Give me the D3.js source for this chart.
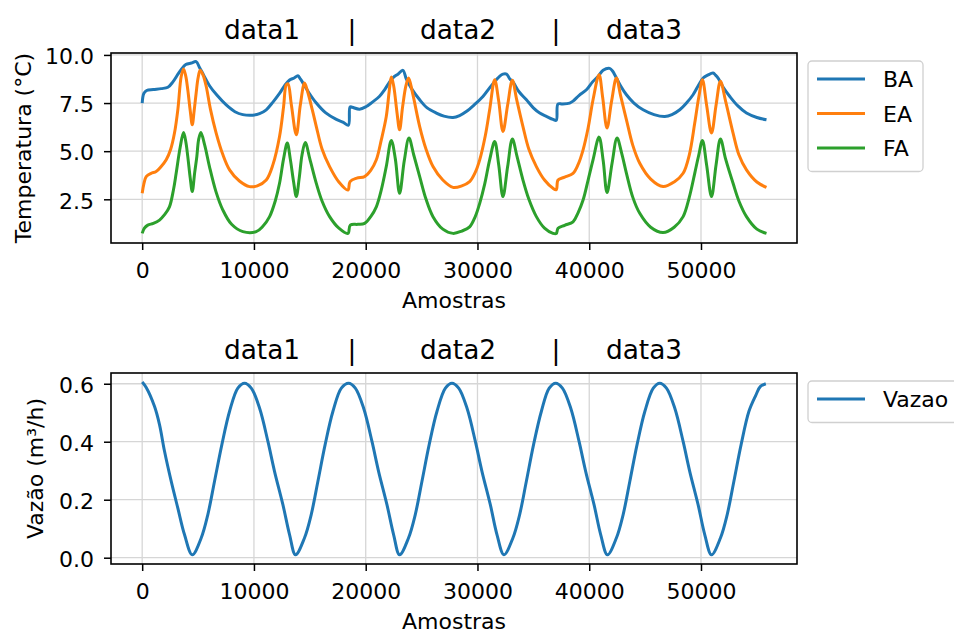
<!DOCTYPE html>
<html>
<head>
<meta charset="utf-8">
<script src="https://cdn.jsdelivr.net/npm/d3@7"></script>
<style>
  body { margin: 0; background: #fff; }
  svg { display: block; font-family: 'DejaVu Sans', sans-serif; }
</style>
</head>
<body>
<svg width="954" height="633"></svg>
<script>
// Tick labels
let amostrasTicks = [0, 10000, 20000, 30000, 40000, 50000];
let tempTicks = [2.5, 5.0, 7.5, 10.0];
let vazaoTicks = [0.0, 0.2, 0.4, 0.6];

// Title pieces above each panel
let titleParts = ['data1', '|', 'data2', '|', 'data3'];

// Series names
let tempNames = ['BA', 'EA', 'FA'];
let vazaoNames = ['Vazao'];

// [amostra, temperatura]
let baData = [[0,7.5],[150,8.0],[400,8.15],[1000,8.2],[1700,8.25],[2300,8.32],[2750,8.6],[3200,9.0],[3500,9.25],[3900,9.5],[4400,9.58],[4830,9.65],[5130,9.35],[5500,8.95],[6025,8.4],[6700,7.9],[7520,7.4],[8300,7.05],[9000,6.9],[9900,6.87],[10500,6.95],[11100,7.15],[11700,7.55],[12290,8.0],[12800,8.45],[13190,8.7],[13600,8.8],[13930,8.92],[14150,8.75],[14380,8.55],[14900,8.05],[15580,7.5],[16400,7.0],[17370,6.65],[18000,6.5],[18450,6.35],
  [18600,7.3],[18800,7.28],[19450,7.18],[20050,7.32],[20600,7.55],[21240,7.85],[21700,8.2],[22140,8.6],[22500,8.85],[22880,9.0],[23330,9.2],[23630,8.75],[24100,8.25],[24830,7.67],[25500,7.25],[26320,6.98],[27000,6.82],[27810,6.75],[28400,6.85],[29000,7.06],[29700,7.4],[30490,7.84],[31100,8.3],[31690,8.71],[32000,8.9],[32280,9.0],[32600,9.0],[32900,8.75],[33180,8.6],[33700,8.1],[34380,7.67],[35000,7.25],[35570,6.98],[36200,6.8],[36760,6.65],[37050,6.6],
  [37200,7.45],[37600,7.45],[38250,7.5],[38550,7.6],[39100,7.9],[39750,8.19],[40300,8.6],[40790,8.88],[41240,9.2],[41830,9.3],[42100,9.15],[42280,8.97],[42800,8.4],[43330,7.93],[44000,7.5],[44820,7.15],[45800,6.9],[46760,6.8],[47400,6.9],[48100,7.15],[48700,7.5],[49290,7.93],[49800,8.45],[50190,8.8],[50600,8.95],[51080,9.06],[51300,8.95],[51530,8.8],[52000,8.3],[52580,7.84],[53300,7.35],[54070,6.98],[55000,6.75],[55860,6.63]];

let eaData = [[0,2.81],[150,3.3],[360,3.68],[800,3.85],[1250,3.94],[1700,4.2],[2150,4.55],[2550,5.1],[2890,5.94],[3200,7.2],[3490,8.88],[3700,9.27],[3900,8.9],[4080,8.19],[4300,7.1],[4480,6.37],[4650,7.1],[4830,8.02],[5000,8.8],[5190,9.2],[5450,8.95],[5730,8.36],[6100,7.2],[6620,5.94],[7200,4.85],[7820,4.03],[8700,3.45],[9610,3.16],[10300,3.2],[11100,3.5],[11700,4.3],[12290,5.76],[12650,7.3],[12890,8.45],[13050,8.5],[13350,7.4],[13790,5.85],[14150,7.4],[14530,8.54],[14800,8.1],[15200,7.2],[15580,6.28],[16100,5.1],[16770,4.2],[17600,3.4],[18410,2.98],
  [18600,3.42],[19200,3.6],[19900,3.68],[20450,4.0],[20950,4.55],[21400,5.6],[21840,6.8],[22100,8.1],[22290,8.85],[22500,8.4],[22800,7.0],[23030,6.11],[23300,7.3],[23600,8.4],[23840,8.8],[24200,8.0],[24830,6.28],[25400,5.1],[26020,4.2],[26900,3.5],[27810,3.12],[28600,3.2],[29300,3.42],[29800,3.9],[30200,4.55],[30700,5.8],[31090,7.15],[31540,8.71],[31900,7.6],[32280,6.02],[32700,7.4],[33120,8.68],[33500,7.7],[34070,6.28],[34600,5.1],[35270,4.2],[36000,3.5],[36760,3.07],[37050,3.0],
  [37210,3.5],[37800,3.65],[38550,3.85],[39000,4.3],[39450,5.07],[39900,6.2],[40340,7.67],[40880,8.97],[41200,7.8],[41590,6.2],[42000,7.6],[42430,8.8],[42800,7.9],[43330,6.63],[43900,5.3],[44520,4.37],[45500,3.55],[46610,3.16],[47600,3.4],[48400,3.85],[48950,4.8],[49440,6.46],[49800,7.8],[50130,8.71],[50500,7.4],[50940,5.94],[51350,7.4],[51740,8.63],[52200,7.6],[52870,5.94],[53400,4.8],[54070,4.03],[55000,3.4],[55860,3.12]];

let faData = [[0,0.73],[200,1.0],[500,1.16],[1000,1.25],[1550,1.42],[2000,1.7],[2440,2.11],[2800,3.0],[3040,3.85],[3400,5.2],[3700,5.97],[3900,5.5],[4080,4.72],[4300,3.6],[4480,2.9],[4700,3.9],[4890,4.72],[5050,5.6],[5250,5.97],[5600,5.3],[6020,4.2],[6600,2.9],[7220,1.94],[8000,1.2],[9010,0.82],[10200,0.82],[10800,1.1],[11400,1.6],[11900,2.4],[12290,3.33],[12650,4.6],[12980,5.42],[13250,4.6],[13550,3.4],[13790,2.64],[14050,3.6],[14300,4.8],[14590,5.45],[15000,4.6],[15580,3.33],[16100,2.4],[16770,1.6],[17600,1.0],[18410,0.73],
  [18620,1.16],[19300,1.2],[19900,1.25],[20450,1.6],[20950,2.11],[21400,3.0],[21840,4.2],[22290,5.56],[22650,4.6],[23030,2.81],[23450,4.5],[23870,5.68],[24300,4.8],[24830,3.68],[25400,2.5],[26020,1.6],[26900,0.95],[27810,0.73],[28600,0.85],[29300,1.07],[29800,1.6],[30200,2.29],[30650,3.3],[31090,4.55],[31540,5.5],[31900,4.3],[32280,2.64],[32700,4.2],[33120,5.63],[33550,4.7],[34070,3.5],[34600,2.5],[35270,1.6],[36000,1.0],[36760,0.73],[37050,0.72],
  [37210,0.99],[37800,1.15],[38550,1.33],[39000,1.8],[39450,2.46],[39900,3.5],[40340,4.55],[40880,5.73],[41250,4.5],[41590,2.85],[42050,4.4],[42490,5.68],[42900,4.9],[43330,3.85],[43900,2.6],[44520,1.77],[45500,1.05],[46610,0.77],[47600,1.05],[48400,1.6],[48950,2.6],[49440,3.85],[49800,4.8],[50130,5.56],[50500,4.3],[50940,2.64],[51350,4.3],[51740,5.63],[52200,4.6],[52870,3.33],[53400,2.4],[54070,1.6],[55000,0.95],[55860,0.73]];

// [amostra, vazao]
let vazaoData = [[0,0.606],[360,0.587],[1100,0.522],[1550,0.459],[2000,0.367],[2600,0.263],[3190,0.171],[3790,0.079],[4480,0.01],
  [5280,0.068],[5870,0.148],[6470,0.263],[7130,0.39],[7820,0.505],[8560,0.585],[9160,0.602],
  [9760,0.585],[10500,0.516],[11250,0.401],[11840,0.298],[12590,0.183],[13190,0.079],[13720,0.01],
  [14520,0.068],[15120,0.148],[15720,0.263],[16370,0.39],[17070,0.505],[17820,0.585],[18470,0.602],
  [19070,0.585],[19810,0.516],[20560,0.401],[21150,0.298],[21900,0.183],[22500,0.079],[23030,0.01],
  [23830,0.068],[24430,0.148],[25030,0.263],[25680,0.39],[26380,0.505],[27130,0.585],[27720,0.602],
  [28320,0.585],[29060,0.516],[29810,0.401],[30400,0.298],[31150,0.183],[31750,0.079],[32370,0.01],
  [33170,0.068],[33770,0.148],[34370,0.263],[35020,0.39],[35720,0.505],[36420,0.585],[37000,0.602],
  [37600,0.585],[38340,0.516],[39090,0.401],[39680,0.298],[40430,0.183],[41030,0.079],[41630,0.01],
  [42430,0.068],[43030,0.148],[43630,0.263],[44280,0.39],[44980,0.505],[45730,0.585],[46310,0.602],
  [46910,0.585],[47650,0.516],[48400,0.401],[48990,0.298],[49740,0.183],[50340,0.079],[50940,0.01],
  [51740,0.068],[52340,0.148],[52940,0.263],[53590,0.39],[54290,0.505],[54900,0.56],[55300,0.59],[55800,0.6]];

// Select the svg element
let svg = d3.select('svg');

// Matplotlib tab10 colours
let colors = ['#1f77b4', '#ff7f0e', '#2ca02c'];

// Shared horizontal placement of both panels
let left = 111, right = 797;
let x = d3.scaleLinear().domain([-2790, 58590]).range([left, right]);

function drawPanel(p) {
    let y = d3.scaleLinear().domain(p.yDomain).range([p.bottom, p.top]);
    let g = svg.append('g');

    // Grid lines first so the curves sit on top
    g.selectAll('.vgrid').data(amostrasTicks).enter().append('line')
        .attr('x1', d => x(d)).attr('x2', d => x(d))
        .attr('y1', p.top).attr('y2', p.bottom)
        .attr('stroke', '#d6d6d6').attr('stroke-width', 1.3);
    g.selectAll('.hgrid').data(p.yTicks).enter().append('line')
        .attr('x1', left).attr('x2', right)
        .attr('y1', d => y(d)).attr('y2', d => y(d))
        .attr('stroke', '#d6d6d6').attr('stroke-width', 1.3);

    // The curves (catmull-rom keeps the peaks round but passes through every point)
    let line = d3.line().curve(d3.curveCatmullRom.alpha(0.5)).x(d => x(d[0])).y(d => y(d[1]));
    p.series.forEach((s, i) => {
        g.append('path')
            .attr('d', line(s))
            .attr('fill', 'none')
            .attr('stroke', colors[i])
            .attr('stroke-width', 3)
            .attr('stroke-linejoin', 'round');
    });

    // Axes
    let xAxis = g.append('g')
        .attr('transform', 'translate(0,' + p.bottom + ')')
        .call(d3.axisBottom(x).tickValues(amostrasTicks).tickSize(7).tickFormat(d3.format('d')));
    xAxis.selectAll('text').attr('dy', null).attr('y', 34.5);

    let yAxis = g.append('g')
        .attr('transform', 'translate(' + left + ',0)')
        .call(d3.axisLeft(y).tickValues(p.yTicks).tickSize(7).tickFormat(d3.format('.1f')));
    yAxis.selectAll('text').attr('x', -17).attr('dy', '0.4em');

    [xAxis, yAxis].forEach(a => {
        a.select('.domain').remove();
        a.selectAll('line').attr('stroke', '#000').attr('stroke-width', 1.5);
        a.selectAll('text').attr('fill', '#000').style('font-size', '22px')
            .style('font-family', "'DejaVu Sans', sans-serif");
    });

    // Frame
    g.append('rect')
        .attr('x', left).attr('y', p.top)
        .attr('width', right - left).attr('height', p.bottom - p.top)
        .attr('fill', 'none').attr('stroke', '#000').attr('stroke-width', 1.6);

    // Title pieces
    let center = (left + right) / 2;
    let offsets = [-192, -102, 4, 102, 190];
    titleParts.forEach((t, i) => {
        g.append('text')
            .attr('x', center + offsets[i]).attr('y', p.top - 14)
            .attr('text-anchor', 'middle')
            .style('font-size', '26.4px')
            .text(t);
    });

    // Axis labels
    g.append('text')
        .attr('text-anchor', 'middle')
        .attr('x', center).attr('y', p.bottom + 65)
        .style('font-size', '22px')
        .text('Amostras');
    g.append('text')
        .attr('text-anchor', 'middle')
        .attr('transform', 'translate(' + p.ylabelX + ',' + ((p.top + p.bottom) / 2) + ')rotate(-90)')
        .style('font-size', '22px')
        .text(p.ylabel);

    // Legend
    let lg = g.append('g').attr('transform', 'translate(808,' + (p.top + 8) + ')');
    lg.append('rect')
        .attr('width', p.legendW).attr('height', 7 + 34.5 * p.names.length)
        .attr('rx', 4)
        .attr('fill', '#fff').attr('stroke', '#d0d0d0').attr('stroke-width', 1.3);
    p.names.forEach((n, i) => {
        let ly = 18 + i * 34.5;
        lg.append('line')
            .attr('x1', 9).attr('x2', 57).attr('y1', ly).attr('y2', ly)
            .attr('stroke', colors[i]).attr('stroke-width', 3);
        lg.append('text')
            .attr('x', 75).attr('y', ly + 8)
            .style('font-size', '22px')
            .text(n);
    });
}

drawPanel({
    top: 53, bottom: 243,
    yDomain: [0.23, 10.1], yTicks: tempTicks,
    series: [baData, eaData, faData], names: tempNames,
    ylabel: 'Temperatura (°C)', ylabelX: 31, legendW: 115
});

drawPanel({
    top: 373, bottom: 564,
    yDomain: [-0.0217, 0.637], yTicks: vazaoTicks,
    series: [vazaoData], names: vazaoNames,
    ylabel: 'Vazão (m³/h)', ylabelX: 43, legendW: 160
});
</script>
</body>
</html>
